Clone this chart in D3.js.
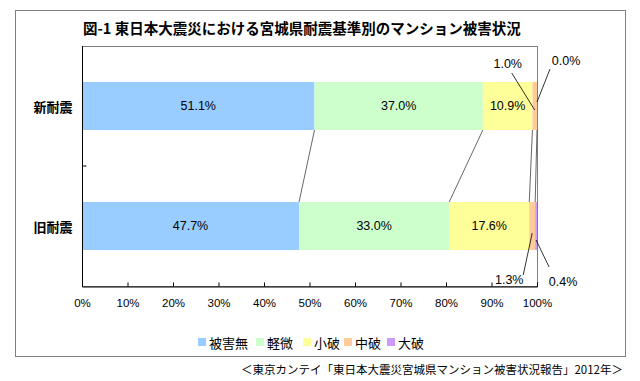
<!DOCTYPE html>
<html>
<head>
  <meta charset="utf-8">
  <script src="https://d3js.org/d3.v7.min.js"></script>
  <style>
    body { margin: 0; background: #fff; }
    text { font-family: "Noto Sans CJK JP", sans-serif; fill: #000; }
    .num { font-family: "Liberation Sans Narrow", "Liberation Sans", sans-serif; }
  </style>
</head>
<body>
  <svg id="chart"></svg>
  <script>
    // data
    var categories = ["新耐震", "旧耐震"];
    var seriesNames = ["被害無", "軽微", "小破", "中破", "大破"];
    var newValues = [51.1, 37.0, 10.9, 1.0, 0.0];
    var oldValues = [47.7, 33.0, 17.6, 1.3, 0.4];
    var xTicks = [0, 10, 20, 30, 40, 50, 60, 70, 80, 90, 100];

    var colors = ["#99ccff", "#ccffcc", "#ffff99", "#ffcc99", "#cc99ff"];

    var width = 640, height = 381;
    var plot = { left: 82, right: 537, top: 46, bottom: 286 };

    var svg = d3.select("#chart").attr("width", width).attr("height", height);

    // outer frame
    svg.append("rect")
      .attr("x", 15.5).attr("y", 10.5)
      .attr("width", 610).attr("height", 346)
      .attr("fill", "none").attr("stroke", "#808080");

    svg.append("text")
      .attr("x", 83).attr("y", 27)
      .attr("dominant-baseline", "central")
      .attr("font-size", 14.5).attr("font-weight", "bold")
      .text("図-1 東日本大震災における宮城県耐震基準別のマンション被害状況");

    var x = d3.scaleLinear().domain([0, 100]).range([plot.left, plot.right]);
    var y = d3.scaleBand().domain(categories).range([plot.top, plot.bottom])
      .paddingInner(0.6).paddingOuter(0.3);

    // plot area border
    svg.append("rect")
      .attr("x", plot.left + 0.5).attr("y", plot.top + 0.5)
      .attr("width", plot.right - plot.left).attr("height", plot.bottom - plot.top)
      .attr("fill", "none").attr("stroke", "#808080");

    var rows = [newValues, oldValues].map(function(vals, i) {
      var acc = 0;
      return {
        cat: categories[i],
        segs: vals.map(function(v, j) {
          var s = { v: v, x0: acc, x1: acc + v, j: j };
          acc += v;
          return s;
        })
      };
    });

    // series lines between the two bars
    var sLines = d3.range(4).map(function(j) {
      return { a: rows[0].segs[j].x1, b: rows[1].segs[j].x1 };
    });
    svg.append("g").selectAll("line").data(sLines).enter().append("line")
      .attr("x1", d => x(d.a)).attr("y1", y(categories[0]) + y.bandwidth())
      .attr("x2", d => x(d.b)).attr("y2", y(categories[1]))
      .attr("stroke", "#404040").attr("stroke-width", 0.8);

    var bars = svg.append("g").selectAll("g").data(rows).enter().append("g");
    bars.selectAll("rect").data(d => d.segs.map(s => Object.assign({ cat: d.cat }, s)))
      .enter().append("rect")
      .attr("x", d => x(d.x0))
      .attr("y", d => y(d.cat))
      .attr("width", d => x(d.x1) - x(d.x0))
      .attr("height", y.bandwidth())
      .attr("fill", d => colors[d.j]);

    // inside labels for the big segments
    bars.selectAll("text").data(d => d.segs.filter(s => s.j < 3).map(s => Object.assign({ cat: d.cat }, s)))
      .enter().append("text")
      .attr("class", "num")
      .attr("x", d => x((d.x0 + d.x1) / 2))
      .attr("y", d => y(d.cat) + y.bandwidth() / 2)
      .attr("text-anchor", "middle").attr("dominant-baseline", "central")
      .attr("font-size", 12.5)
      .text(d => d.v.toFixed(1) + "%");

    // outside labels with leader lines (offsets from the segment anchor)
    var callouts = [
      { row: 0, j: 3, ay: 4, sx: -23, sy: -37, lx: -27, ly: -46 },
      { row: 0, j: 4, ay: -4, sx: 13, sy: -33, lx: 29, ly: -41 },
      { row: 1, j: 3, ay: 7, sx: -9, sy: 42, lx: -23, ly: 47 },
      { row: 1, j: 4, ay: 14, sx: 13, sy: 27, lx: 27, ly: 42 }
    ];
    callouts.forEach(function(c) {
      var seg = rows[c.row].segs[c.j];
      var ax = x((seg.x0 + seg.x1) / 2);
      var ay = y(categories[c.row]) + y.bandwidth() / 2 + c.ay;
      svg.append("line")
        .attr("x1", ax).attr("y1", ay)
        .attr("x2", ax + c.sx).attr("y2", ay + c.sy)
        .attr("stroke", "#000").attr("stroke-width", 0.8);
      svg.append("text")
        .attr("class", "num")
        .attr("x", ax + c.lx).attr("y", ay + c.ly)
        .attr("text-anchor", "middle").attr("dominant-baseline", "central")
        .attr("font-size", 12.5)
        .text(seg.v.toFixed(1) + "%");
    });

    // x axis
    var xAxis = svg.append("g").attr("transform", "translate(0," + (plot.bottom + 0.5) + ")")
      .call(d3.axisBottom(x).tickValues(xTicks).tickSize(-4).tickPadding(12).tickFormat(d => d + "%"));
    xAxis.select(".domain").attr("stroke", "#000");
    xAxis.selectAll(".tick line").attr("stroke", "#000");
    xAxis.selectAll("text").attr("class", "num").attr("font-size", 11.5)
      .style("font-family", "'Liberation Sans Narrow', 'Liberation Sans', sans-serif");

    // y axis
    var yAxis = svg.append("g").attr("transform", "translate(" + (plot.left + 0.5) + ",0)");
    yAxis.append("line")
      .attr("y1", plot.top).attr("y2", plot.bottom + 0.5)
      .attr("stroke", "#000");
    yAxis.selectAll("line.tk").data([(plot.top + plot.bottom) / 2])
      .enter().append("line")
      .attr("x1", 0).attr("x2", 4).attr("y1", d => d).attr("y2", d => d)
      .attr("stroke", "#000");
    yAxis.selectAll("text").data(categories).enter().append("text")
      .attr("x", -10).attr("y", d => y(d) + y.bandwidth() / 2)
      .attr("text-anchor", "end").attr("dominant-baseline", "central")
      .attr("font-size", 13).attr("font-weight", "bold")
      .text(d => d);

    // legend
    var legendX = [198, 256, 303, 344, 387];
    var legend = svg.append("g").selectAll("g").data(seriesNames).enter().append("g")
      .attr("transform", (d, i) => "translate(" + legendX[i] + ",342)");
    legend.append("rect").attr("x", 0).attr("y", -4).attr("width", 8).attr("height", 8)
      .attr("fill", (d, i) => colors[i]);
    legend.append("text").attr("x", 11).attr("y", 0)
      .attr("dominant-baseline", "central").attr("font-size", 13)
      .text(d => d);

    // source note
    svg.append("text")
      .attr("x", 623).attr("y", 369)
      .attr("text-anchor", "end").attr("dominant-baseline", "central")
      .attr("font-size", 11.5)
      .text("＜東京カンテイ「東日本大震災宮城県マンション被害状況報告」2012年＞");
  </script>
</body>
</html>
